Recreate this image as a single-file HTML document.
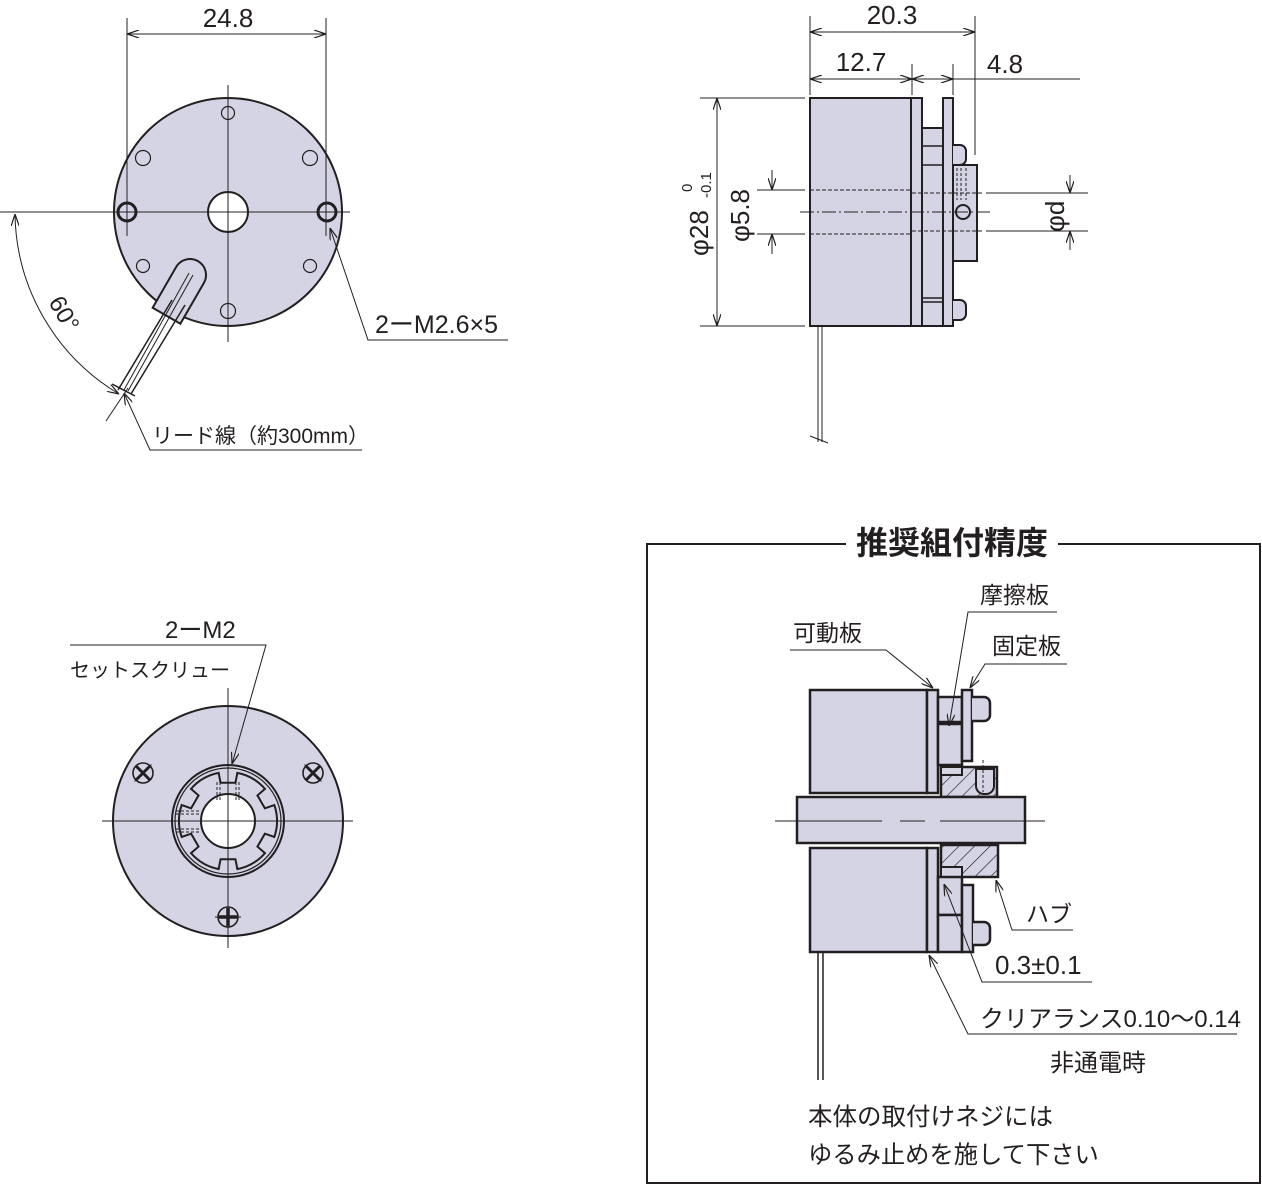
<!DOCTYPE html>
<html><head><meta charset="utf-8"><style>
html,body{margin:0;padding:0;background:#fff}
svg{display:block}
text{font-family:"Liberation Sans","Noto Sans CJK JP",sans-serif;fill:#231f20}
</style></head><body>
<svg width="1262" height="1185" viewBox="0 0 1262 1185" xmlns="http://www.w3.org/2000/svg">
<defs>
<marker id="a" viewBox="0 0 12 8" refX="12" refY="4" markerWidth="12" markerHeight="8" orient="auto-start-reverse" markerUnits="userSpaceOnUse"><path d="M0,0 L12,4 L0,8" fill="none" stroke="#231f20" stroke-width="1.2"/></marker>
<pattern id="h" width="11" height="11" patternUnits="userSpaceOnUse" patternTransform="rotate(45)"><rect width="11" height="11" fill="#d4d4e4"/><line x1="0" y1="0" x2="0" y2="11" stroke="#231f20" stroke-width="1.3"/></pattern>
</defs>
<g stroke="#231f20" fill="none" stroke-width="1">

<!-- ===== Top-left view ===== -->
<circle cx="228" cy="212" r="114" fill="#d4d4e4" stroke-width="2"/>
<g transform="rotate(30 190 275)">
<path d="M174,275 A16,16 0 0 1 206,275 L206,322 L174,322 Z" fill="#d4d4e4" stroke-width="2"/>
</g>
<circle cx="228" cy="212" r="20" fill="#fff" stroke-width="2"/>
<circle cx="127" cy="212" r="9" fill="#d4d4e4" stroke-width="3"/>
<circle cx="327" cy="212" r="9" fill="#d4d4e4" stroke-width="3"/>
<circle cx="228" cy="113" r="6.5" stroke-width="1.2"/>
<circle cx="143" cy="158" r="7.5" stroke-width="1.2"/>
<circle cx="310" cy="158" r="7.5" stroke-width="1.2"/>
<circle cx="143" cy="266" r="6.5" stroke-width="1.2"/>
<circle cx="310" cy="266" r="6.5" stroke-width="1.2"/>
<circle cx="228" cy="311" r="7.5" stroke-width="1.2"/>
<line x1="0" y1="212" x2="350" y2="212"/>
<line x1="228" y1="85" x2="228" y2="342"/>
<line x1="172" y1="300" x2="118" y2="390" stroke-width="1.5"/>
<line x1="185" y1="305" x2="131" y2="394" stroke-width="1.5"/>
<line x1="189" y1="273" x2="124" y2="390"/>
<line x1="193" y1="275" x2="128" y2="391"/>
<line x1="112" y1="384" x2="135" y2="396" stroke-width="1.5"/>
<line x1="106" y1="421" x2="128" y2="388"/>
<line x1="127" y1="18" x2="127" y2="236"/>
<line x1="326" y1="18" x2="326" y2="236"/>
<line x1="127" y1="34" x2="326" y2="34" marker-start="url(#a)" marker-end="url(#a)"/>
<path d="M15,214 A213,213 0 0 0 119,394" marker-start="url(#a)" marker-end="url(#a)"/>
<polyline points="330,228 368,340 508,340" marker-start="url(#a)"/>
<polyline points="124,393 150,450 362,450" marker-start="url(#a)"/>

<!-- ===== Top-right view ===== -->
<rect x="810" y="98" width="101" height="228" fill="#d4d4e4" stroke-width="2"/>
<rect x="911" y="98" width="11" height="228" fill="#d4d4e4" stroke-width="2"/>
<rect x="922" y="128" width="21" height="198" fill="#d4d4e4" stroke-width="2"/>
<line x1="922" y1="146" x2="943" y2="146" stroke-width="1.5"/>
<line x1="922" y1="165" x2="943" y2="165" stroke-width="1.5"/>
<line x1="922" y1="298" x2="943" y2="298" stroke-width="1.5"/>
<line x1="922" y1="302" x2="943" y2="302" stroke-width="1.5"/>
<rect x="943" y="98" width="10" height="228" fill="#d4d4e4" stroke-width="2"/>
<path d="M953,145 L960,145 A6,6 0 0 1 966,151 L966,159 A6,6 0 0 1 960,165 L953,165" fill="#d4d4e4" stroke-width="2"/>
<path d="M953,300 L960,300 A6,6 0 0 1 966,306 L966,314 A6,6 0 0 1 960,320 L953,320" fill="#d4d4e4" stroke-width="2"/>
<rect x="953" y="165" width="24" height="96" fill="#d4d4e4" stroke-width="2"/>
<line x1="957" y1="168" x2="957" y2="200" stroke-dasharray="3,2"/>
<line x1="961" y1="168" x2="961" y2="200" stroke-dasharray="3,2"/>
<line x1="966" y1="168" x2="966" y2="200" stroke-dasharray="3,2"/>
<circle cx="963" cy="212" r="7" stroke-width="2"/>
<line x1="800" y1="212" x2="990" y2="212" stroke-dasharray="14,3,2,3"/>
<line x1="810" y1="190" x2="912" y2="190" stroke-dasharray="4,2"/>
<line x1="810" y1="234" x2="912" y2="234" stroke-dasharray="4,2"/>
<line x1="912" y1="193" x2="984" y2="193" stroke-dasharray="4,2"/>
<line x1="912" y1="231" x2="984" y2="231" stroke-dasharray="4,2"/>
<line x1="818" y1="326" x2="818" y2="442"/>
<line x1="822" y1="326" x2="822" y2="442"/>
<line x1="810" y1="436" x2="828" y2="443"/>
<line x1="810" y1="16" x2="810" y2="95"/>
<line x1="975" y1="16" x2="975" y2="155"/>
<line x1="810" y1="32" x2="975" y2="32" marker-start="url(#a)" marker-end="url(#a)"/>
<line x1="912" y1="64" x2="912" y2="95"/>
<line x1="953" y1="64" x2="953" y2="95"/>
<line x1="810" y1="79" x2="912" y2="79" marker-start="url(#a)" marker-end="url(#a)"/>
<line x1="912" y1="79" x2="953" y2="79" marker-start="url(#a)" marker-end="url(#a)"/>
<line x1="953" y1="79" x2="1080" y2="79"/>
<line x1="700" y1="98" x2="805" y2="98"/>
<line x1="700" y1="326" x2="805" y2="326"/>
<line x1="717" y1="98" x2="717" y2="326" marker-start="url(#a)" marker-end="url(#a)"/>
<line x1="757" y1="190" x2="805" y2="190"/>
<line x1="757" y1="234" x2="805" y2="234"/>
<line x1="772" y1="170" x2="772" y2="190" marker-end="url(#a)"/>
<line x1="772" y1="254" x2="772" y2="234" marker-end="url(#a)"/>
<line x1="986" y1="193" x2="1088" y2="193"/>
<line x1="986" y1="231" x2="1088" y2="231"/>
<line x1="1070" y1="175" x2="1070" y2="193" marker-end="url(#a)"/>
<line x1="1070" y1="250" x2="1070" y2="231" marker-end="url(#a)"/>

<!-- ===== Bottom-left view ===== -->
<circle cx="228" cy="821" r="115" fill="#d4d4e4" stroke-width="2"/>
<circle cx="228" cy="821" r="56" stroke-width="2"/>
<circle cx="228" cy="821" r="53" stroke-width="1.2"/>
<path id="star" stroke-width="2" fill="#d4d4e4"/>
<circle cx="228" cy="821" r="27" fill="#fff" stroke-width="2"/>
<line x1="217" y1="782" x2="217" y2="800" stroke-dasharray="3,2"/>
<line x1="220" y1="782" x2="220" y2="800" stroke-dasharray="3,2"/>
<line x1="236" y1="782" x2="236" y2="800" stroke-dasharray="3,2"/>
<line x1="239" y1="782" x2="239" y2="800" stroke-dasharray="3,2"/>
<line x1="176" y1="811" x2="201" y2="811" stroke-dasharray="3,2"/>
<line x1="176" y1="814" x2="201" y2="814" stroke-dasharray="3,2"/>
<line x1="176" y1="829" x2="201" y2="829" stroke-dasharray="3,2"/>
<line x1="176" y1="832" x2="201" y2="832" stroke-dasharray="3,2"/>
<line x1="102" y1="821" x2="353" y2="821"/>
<line x1="228" y1="688" x2="228" y2="948"/>
<g stroke-width="1.6">
<circle cx="143" cy="773" r="10"/><path d="M136,766 L150,780 M150,766 L136,780" stroke-width="3"/><line x1="131" y1="773" x2="155" y2="773" stroke-width="1" transform="rotate(-45 143 773)"/>
<circle cx="313" cy="773" r="10"/><path d="M306,766 L320,780 M320,766 L306,780" stroke-width="3"/><line x1="301" y1="773" x2="325" y2="773" stroke-width="1" transform="rotate(45 313 773)"/>
<circle cx="228" cy="917" r="10"/><path d="M228,908 L228,926 M219,917 L237,917" stroke-width="3.5"/><line x1="215" y1="917" x2="241" y2="917" stroke-width="1"/>
</g>
<polyline points="232,764 266,645 70,645" marker-start="url(#a)"/>

<!-- ===== Box ===== -->
<polyline points="846,544 647,544 647,1183 1260,1183 1260,544 1058,544" stroke-width="2"/>

<rect x="810" y="690" width="117" height="103" fill="#d4d4e4" stroke-width="2.5"/>
<rect x="927" y="690" width="11" height="103" fill="#d4d4e4" stroke-width="2.5"/>
<rect x="810" y="848" width="117" height="104" fill="#d4d4e4" stroke-width="2.5"/>
<rect x="927" y="848" width="11" height="104" fill="#d4d4e4" stroke-width="2.5"/>
<rect x="938" y="697" width="24" height="25" fill="#d4d4e4" stroke-width="2.5"/>
<rect x="938" y="724" width="24" height="41" fill="#d4d4e4" stroke-width="2.5"/>
<rect x="962" y="690" width="10" height="71" fill="#d4d4e4" stroke-width="2.5"/>
<path d="M972,697 L984,697 A6,6 0 0 1 990,703 L990,715 A6,6 0 0 1 984,721 L972,721" fill="#d4d4e4" stroke-width="2.5"/>
<path d="M941,767 L997,767 L997,797 L941,797 Z" fill="url(#h)" stroke-width="2.5"/>
<rect x="941" y="767" width="21" height="8" fill="#d4d4e4" stroke-width="2"/>
<path d="M976,769 L994,769 L994,786 A8,8 0 0 1 986,794 L984,794 A8,8 0 0 1 976,786 Z" fill="#d4d4e4" stroke-width="2"/>
<line x1="983" y1="760" x2="983" y2="792" stroke-dasharray="3,2"/>
<rect x="797" y="797" width="228" height="46" fill="#d4d4e4" stroke-width="2.5"/>
<line x1="775" y1="821" x2="882" y2="821"/>
<line x1="900" y1="821" x2="925" y2="821"/>
<line x1="940" y1="821" x2="1045" y2="821"/>
<path d="M941,845 L998,845 L998,877 L941,877 Z" fill="url(#h)" stroke-width="2.5"/>
<rect x="941" y="867" width="21" height="10" fill="#d4d4e4" stroke-width="2"/>
<rect x="938" y="877" width="24" height="38" fill="#d4d4e4" stroke-width="2.5"/>
<rect x="938" y="915" width="24" height="37" fill="#d4d4e4" stroke-width="2.5"/>
<rect x="962" y="885" width="11" height="67" fill="#d4d4e4" stroke-width="2.5"/>
<path d="M973,922 L984,922 A6,6 0 0 1 990,928 L990,939 A6,6 0 0 1 984,945 L973,945" fill="#d4d4e4" stroke-width="2.5"/>
<line x1="818" y1="952" x2="818" y2="1080" stroke-width="1.5"/>
<line x1="823" y1="952" x2="823" y2="1080" stroke-width="1.5"/>
<polyline points="790,650 886,650 933,688" marker-end="url(#a)"/>
<polyline points="1057,612 968,612 949,726" marker-end="url(#a)"/>
<polyline points="1067,664 985,664 970,688" marker-end="url(#a)"/>
<polyline points="996,880 1012,930 1073,930" marker-start="url(#a)"/>
<polyline points="944,884 982,982 1092,982" marker-start="url(#a)"/>
<polyline points="929,955 968,1034 1237,1034" marker-start="url(#a)"/>
</g>

<g font-size="22">
<text x="228" y="27" text-anchor="middle" font-size="26">24.8</text>
<text x="375" y="333" font-size="25">2ーM2.6×5</text>
<text x="152" y="443" font-size="21">リード線（約300mm）</text>
<text transform="translate(48,302) rotate(60)" font-size="24">60°</text>
<text x="892" y="24" text-anchor="middle" font-size="26">20.3</text>
<text x="861" y="71" text-anchor="middle" font-size="26">12.7</text>
<text x="1005" y="73" text-anchor="middle" font-size="26">4.8</text>
<text transform="translate(708,256) rotate(-90)" font-size="26">φ28</text>
<text transform="translate(692,192) rotate(-90)" font-size="15">0</text>
<text transform="translate(711,198) rotate(-90)" font-size="15">-0.1</text>
<text transform="translate(749,242) rotate(-90)" font-size="26">φ5.8</text>
<text transform="translate(1064,232) rotate(-90)" font-size="26">φd</text>
<text x="165" y="638" font-size="24">2ーM2</text>
<text x="70" y="677" font-size="20">セットスクリュー</text>
<text x="952" y="554" text-anchor="middle" font-size="32" font-weight="bold">推奨組付精度</text>
<text x="793" y="641" font-size="23">可動板</text>
<text x="980" y="603" font-size="23">摩擦板</text>
<text x="992" y="654" font-size="23">固定板</text>
<text x="1026" y="922" font-size="23">ハブ</text>
<text x="995" y="974" font-size="26">0.3±0.1</text>
<text x="980" y="1027" font-size="24">クリアランス0.10〜0.14</text>
<text x="1050" y="1071" font-size="24">非通電時</text>
<text x="808" y="1125" font-size="24.5">本体の取付けネジには</text>
<text x="808" y="1163" font-size="24.3">ゆるみ止めを施して下さい</text>
</g>
</svg>
<script>
(function(){
var cx=228,cy=821,R=49,r=39,notch=[30,90,150,210,270,330],w=11;
var d="";var pts=[];
for(var i=0;i<notch.length;i++){
 var a=notch[i]*Math.PI/180;var hw=w*Math.PI/180;
 pts.push([a-hw,R],[a-hw,r],[a+hw,r],[a+hw,R]);
}
pts.forEach(function(p,i){var x=cx+p[1]*Math.cos(p[0]),y=cy-p[1]*Math.sin(p[0]);
 if(i==0)d+="M"+x+","+y;else if(i%4==0)d+=" A"+R+","+R+" 0 0 0 "+x+","+y;else d+=" L"+x+","+y;});
var p=pts[0];d+=" A"+R+","+R+" 0 0 0 "+(cx+R*Math.cos(p[0]))+","+(cy-R*Math.sin(p[0]))+" Z";
document.getElementById("star").setAttribute("d",d);
})();
</script>
</body></html>
